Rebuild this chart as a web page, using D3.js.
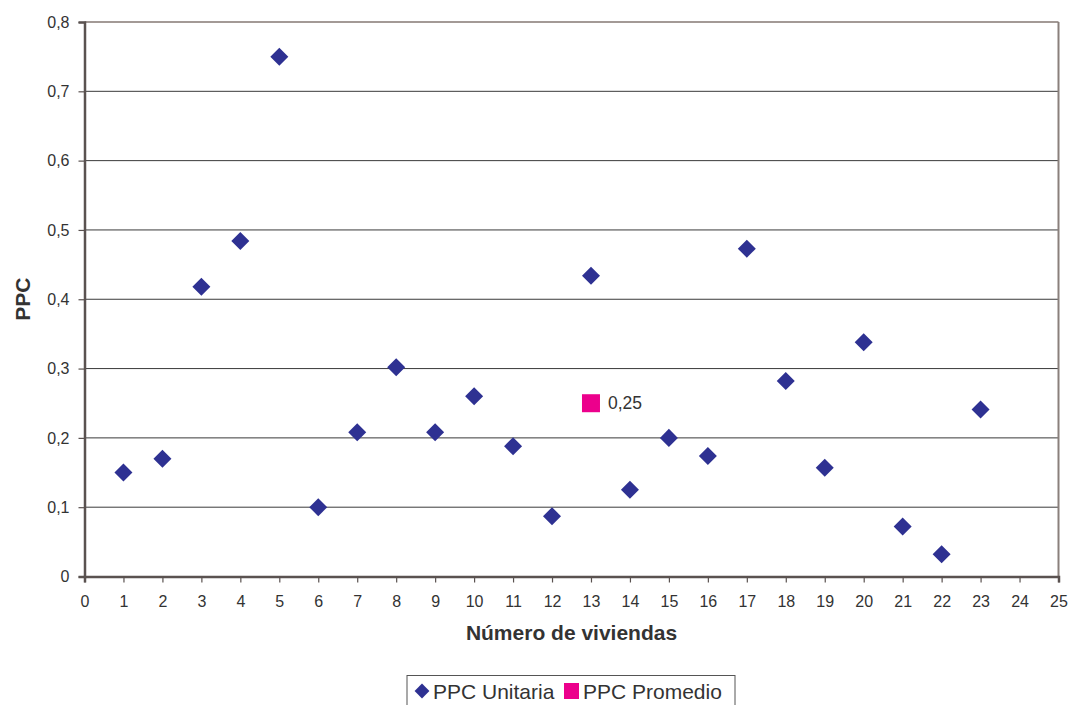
<!DOCTYPE html>
<html><head><meta charset="utf-8">
<script src="https://cdn.jsdelivr.net/npm/d3@7"></script>
<style>body{margin:0;background:#fff;}svg{display:block;font-family:"Liberation Sans",Arial,sans-serif;}</style>
</head><body>
<svg id="c" width="1072" height="705"></svg>
<script>
const viviendas = [1,2,3,4,5,6,7,8,9,10,11,12,13,14,15,16,17,18,19,20,21,22,23];
const ppcUnitaria = [0.15,0.17,0.418,0.484,0.75,0.10,0.208,0.302,0.208,0.26,0.188,0.087,0.434,0.125,0.20,0.174,0.473,0.282,0.157,0.338,0.072,0.032,0.241];
const promedioX = [13];
const promedioY = [0.25];
const xTicks = d3.range(0,26);
const yTicks = [0,0.1,0.2,0.3,0.4,0.5,0.6,0.7,0.8];
const seriesNames = ["PPC Unitaria","PPC Promedio"];
const colors = ["#2e3192","#ec008c"];

const svg = d3.select("#c");
const L=84.5, R=1058.5, T=22, B=576.5;
const x = d3.scaleLinear().domain([0,25]).range([L,R]);
const y = d3.scaleLinear().domain([0,0.8]).range([B,T]);
const fmt = d => d===0 ? "0" : d3.format(".1f")(d).replace(".",",");

// gridlines
svg.append("g").selectAll("line").data(yTicks.filter(d=>d>0 && d<0.8)).join("line")
  .attr("x1",L).attr("x2",R).attr("y1",d=>y(d)).attr("y2",d=>y(d))
  .attr("stroke","#3a3a3a").attr("stroke-width",1);
// top and right border
svg.append("line").attr("x1",L).attr("x2",R).attr("y1",T).attr("y2",T).attr("stroke","#a39a96").attr("stroke-width",2);
svg.append("line").attr("x1",R).attr("x2",R).attr("y1",T).attr("y2",B).attr("stroke","#8a807c").attr("stroke-width",2);

// axes
const yAxis = svg.append("g").attr("transform",`translate(${L},0)`)
  .call(d3.axisLeft(y).tickValues(yTicks).tickFormat(fmt).tickSize(6).tickPadding(9));
const xAxis = svg.append("g").attr("transform",`translate(0,${B})`)
  .call(d3.axisBottom(x).tickValues(xTicks).tickFormat(d=>String(d)).tickSize(6).tickPadding(8));
[yAxis,xAxis].forEach(g=>{
  g.select(".domain").attr("stroke","#5a5250").attr("stroke-width",2.5);
  g.selectAll(".tick line").attr("stroke","#5a5250").attr("stroke-width",1.2);
  g.selectAll("text").attr("fill","#333").style("font-size","16px").style("font-family","'Liberation Sans',Arial,sans-serif");
});
xAxis.selectAll("text").attr("dy","1.05em");

// titles
svg.append("text").attr("x",x(12.5)).attr("y",640).attr("text-anchor","middle")
  .attr("font-weight","bold").attr("font-size","21px").attr("fill","#333").text("Número de viviendas");
svg.append("text").attr("transform",`translate(30,${y(0.4)}) rotate(-90)`).attr("text-anchor","middle")
  .attr("font-weight","bold").attr("font-size","21px").attr("fill","#333").text("PPC");

// points
const diamond = d3.symbol().type(d3.symbolSquare).size(162);
svg.append("g").selectAll("path").data(viviendas.map((v,i)=>[v,ppcUnitaria[i]])).join("path")
  .attr("transform",d=>`translate(${x(d[0])},${y(d[1])}) rotate(45)`)
  .attr("d",diamond()).attr("fill",colors[0]);
const sq = 18;
svg.append("g").selectAll("rect").data(promedioX.map((v,i)=>[v,promedioY[i]])).join("rect")
  .attr("x",d=>x(d[0])-sq/2).attr("y",d=>y(d[1])-sq/2).attr("width",sq).attr("height",sq).attr("fill",colors[1]);
svg.append("g").selectAll("text").data(promedioX.map((v,i)=>[v,promedioY[i]])).join("text")
  .attr("x",d=>x(d[0])+17).attr("y",d=>y(d[1])+6).attr("font-size","17.5px").attr("fill","#333")
  .text(d=>d3.format(".2f")(d[1]).replace(".",","));

// legend
const lg = svg.append("g");
lg.append("rect").attr("x",407).attr("y",675.5).attr("width",328).attr("height",40).attr("fill","none").attr("stroke","#555").attr("stroke-width",1);
lg.append("path").attr("transform","translate(422,691) rotate(45)").attr("d",d3.symbol().type(d3.symbolSquare).size(110)()).attr("fill",colors[0]);
lg.append("text").attr("x",433).attr("y",699).attr("font-size","21px").attr("fill","#333").text(seriesNames[0]);
lg.append("rect").attr("x",564).attr("y",683).attr("width",15).attr("height",16).attr("fill",colors[1]);
lg.append("text").attr("x",583).attr("y",699).attr("font-size","21px").attr("fill","#333").text(seriesNames[1]);
</script>
</body></html>
